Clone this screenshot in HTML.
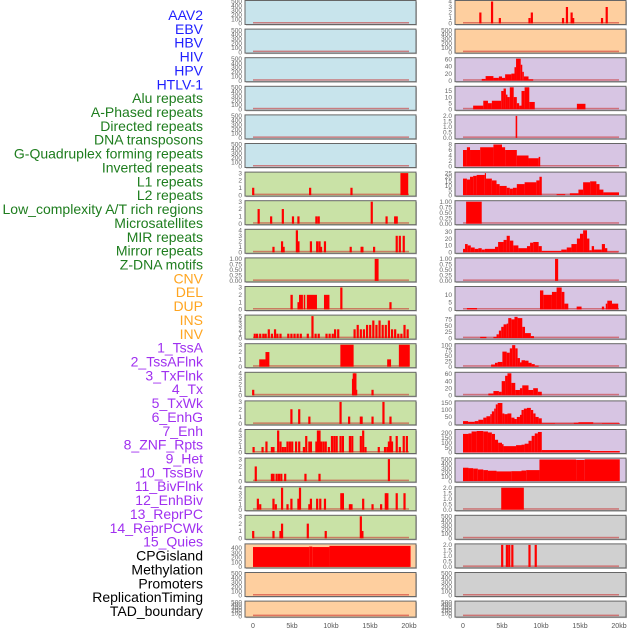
<!DOCTYPE html>
<html><head><meta charset="utf-8">
<style>
html,body{margin:0;padding:0;background:#fff;width:630px;height:630px;overflow:hidden}
svg{display:block}
.lbl{font-family:"Liberation Sans",sans-serif;font-size:14px}
.tk{font-family:"Liberation Sans",sans-serif;font-size:6.5px;fill:#666}
.xt{font-family:"Liberation Sans",sans-serif;font-size:7px;fill:#555}
</style></head>
<body>
<svg id="chart" width="630" height="630" viewBox="0 0 630 630" xmlns="http://www.w3.org/2000/svg"></svg>
<script>
const labelNames=["AAV2","EBV","HBV","HIV","HPV","HTLV-1","Alu repeats","A-Phased repeats","Directed repeats","DNA transposons","G-Quadruplex forming repeats","Inverted repeats","L1 repeats","L2 repeats","Low_complexity A/T rich regions","Microsatellites","MIR repeats","Mirror repeats","Z-DNA motifs","CNV","DEL","DUP","INS","INV","1_TssA","2_TssAFlnk","3_TxFlnk","4_Tx","5_TxWk","6_EnhG","7_Enh","8_ZNF_Rpts","9_Het","10_TssBiv","11_BivFlnk","12_EnhBiv","13_ReprPC","14_ReprPCWk","15_Quies","CPGisland","Methylation","Promoters","ReplicationTiming","TAD_boundary"];
const labelGroups=[0,0,0,0,0,0,1,1,1,1,1,1,1,1,1,1,1,1,1,2,2,2,2,2,3,3,3,3,3,3,3,3,3,3,3,3,3,3,3,4,4,4,4,4];
const groupColors=["#1f1fff","#1e7d1e","#ffa520","#a030f0","#000000"];
const bgColors=["#c8e4ec","#c9e2a6","#fecf9f","#d7c5e3","#d0d0d0"];
const xTickKb=[0,5,10,15,20];
const xTickLabels=["0","5kb","10kb","15kb","20kb"];
const T500=[0,100,200,300,400,500];
const tTicks=[T500,T500,T500,T500,T500,T500,[0,1,2,3],[0,1,2,3],[0,1,2,3,4],[0,0.25,0.5,0.75,1],[0,1,2,3],[0,1,2,3,4,5],[0,1,2,3],[0,1,2,3,4],[0,1,2,3],[0,1,2,3,4],[0,1,2,3],[0,1,2,3,4],[0,1,2,3],[0,100,200,300,400],T500,T500,
 [0,1,2,3,4],T500,[0,20,40,60],[0,5,10,15],[0,0.5,1,1.5,2],[0,2,4,6,8],[0,5,10,15,20,25],[0,0.25,0.5,0.75,1],[0,10,20,30],[0,0.25,0.5,0.75,1],[0,5,10],[0,25,50,75],[0,25,50,75,100],[0,20,40,60],[0,50,100,150],[0,50,100,150,200],T500,[0,0.5,1,1.5,2],T500,[0,0.5,1,1.5,2],T500,T500];
const tMax=[500,500,500,500,500,500,3,3,4,1,3,5,3,4,3,4,3,4,3,460,500,500,
 4,500,62,18,2,8,24,1,32,1,15,88,102,62,158,225,510,2,500,2,500,500];
const tSegs=[[],[],[],[],[],[],
 [[18.9,19.9,3]],
 [],[],[[15.6,16.1,1]],
 [[4.8,5.1,2],[5.7,5.9,1],[5.9,6.4,2],[6.5,6.7,2],[6.9,8.2,2],[9.1,9.8,2]],
 [],
 [[0.8,1.6,1],[1.6,2.1,2],[11.2,12.9,3],[17.2,17.7,1],[18.7,20.1,3]],
 [],[],[],[],[],[],
 [[0,7.2,415],[7.2,7.6,425],[7.6,9.8,415],[9.8,20.2,440]],
 [],[],
 [],[],
 [[2.4,2.9,5],[2.9,3.9,13],[3.9,4.6,8],[4.6,5.0,12],[5.0,5.4,8],[5.4,6.2,18],[6.2,6.6,20],[6.6,6.8,38],[6.8,7.4,62],[7.4,7.6,45],[7.6,7.8,25],[7.8,8.4,12],[8.4,9.0,4]],
 [[1.3,2.6,3],[2.6,3.2,7],[3.2,3.7,5],[3.7,4.9,7],[4.9,5.2,15],[5.2,5.5,17],[5.5,5.7,12],[5.7,6.0,10],[6.0,6.5,18],[6.5,6.9,10],[6.9,7.2,5],[7.2,7.5,3],[7.5,7.9,15],[7.9,8.5,19],[8.5,9.2,6],[14.6,15.7,4.5]],
 [[6.75,6.95,2]],
 [[0,0.5,6],[0.5,0.9,7],[0.9,2.2,6],[2.2,3.9,7],[3.9,5.0,8],[5.0,5.4,7],[5.4,6.9,6],[6.9,8.4,4],[8.4,9.7,3],[9.7,9.9,3.5]],
 [[0,0.5,18],[0.5,0.9,17],[0.9,1.3,20],[1.3,1.75,21],[1.75,2.8,22],[2.8,2.95,24],[2.95,3.7,18],[3.7,4.3,16],[4.3,4.7,12],[4.7,5.6,10],[5.6,6.0,8],[6.0,6.4,7],[6.4,6.9,8],[6.9,7.9,12],[7.9,9.4,14],[9.4,9.8,16],[9.8,10.1,20],[12.0,13.1,1],[13.7,14.8,2],[14.8,15.4,6],[15.4,16.3,14],[16.3,17.1,15],[17.1,17.5,12],[17.5,18.0,6],[18.0,20.0,3]],
 [[0.4,2.4,1]],
 [[0,0.26,5],[0.26,0.6,12],[0.6,1.0,10],[1.0,1.5,7],[1.5,1.97,5],[1.97,2.4,6],[2.4,2.8,4],[2.8,4.1,5],[4.1,4.5,8],[4.5,5.2,15],[5.2,5.6,18],[5.6,6.0,24],[6.0,6.45,17],[6.45,7.1,10],[7.1,8.2,6],[8.2,8.6,9],[8.6,9.0,14],[9.0,9.7,15],[9.7,10.1,9],[10.1,12.6,2],[12.6,13.3,4],[13.3,13.9,7],[13.9,14.6,12],[14.6,15.0,20],[15.0,15.4,27],[15.4,15.9,32],[15.9,16.2,20],[16.2,16.5,3],[16.5,16.8,9],[16.8,17.8,4],[17.8,18.2,12],[18.2,18.5,6],[18.5,19.9,1]],
 [[11.8,12.2,1]],
 [[0.5,1.8,1],[9.87,10.3,13],[10.3,11.4,10],[11.4,12.0,12],[12.0,12.65,16],[12.65,13.0,12],[13.0,13.5,4],[14.57,15.2,2],[17.8,18.1,2],[18.3,18.5,4],[18.5,19.1,6],[19.1,19.9,4]],
 [[2.2,3.0,5],[3.9,4.3,5],[4.3,4.6,15],[4.6,4.9,30],[4.9,5.2,45],[5.2,5.6,55],[5.6,5.8,58],[5.8,6.2,80],[6.2,6.6,75],[6.6,7.0,85],[7.0,7.6,80],[7.6,7.95,45],[7.95,8.7,20],[8.7,9.1,8]],
 [[3.6,4.1,10],[4.1,4.45,18],[4.45,5.05,22],[5.05,5.6,70],[5.6,6.0,65],[6.0,6.3,85],[6.3,6.7,100],[6.7,7.0,85],[7.0,7.3,40],[7.3,7.5,20],[7.5,7.95,30],[7.95,8.4,28],[8.4,8.8,18],[8.8,9.2,12],[9.2,9.7,5]],
 [[3.25,3.9,5],[3.9,4.6,12],[4.6,4.96,10],[4.96,5.4,40],[5.4,5.7,55],[5.7,6.2,62],[6.2,6.7,35],[6.7,7.3,15],[7.3,7.6,20],[7.6,8.4,28],[8.4,9.0,15],[9.0,9.6,20],[9.6,10.1,10]],
 [[0,0.65,20],[0.65,1.5,15],[1.5,1.97,20],[1.97,2.6,30],[2.6,3.0,45],[3.0,3.5,55],[3.5,3.7,70],[3.7,4.0,90],[4.0,4.2,110],[4.2,4.45,140],[4.45,5.05,150],[5.05,5.3,75],[5.3,5.7,70],[5.7,6.2,75],[6.2,6.6,45],[6.6,6.9,35],[6.9,7.3,50],[7.3,7.5,65],[7.5,7.8,100],[7.8,8.2,110],[8.2,8.7,115],[8.7,9.0,100],[9.0,9.3,75],[9.3,9.7,50],[9.7,10.1,40],[10.1,11.8,5],[11.8,14.2,3],[14.2,14.8,8],[14.8,16.7,12],[16.7,17.8,3],[17.8,20.1,5]],
 [[0,0.7,190],[0.7,1.1,195],[1.1,1.75,215],[1.75,2.6,220],[2.6,3.2,215],[3.2,3.7,205],[3.7,4.1,190],[4.1,4.5,130],[4.5,5.0,100],[5.0,5.2,85],[5.2,6.8,65],[6.8,7.5,75],[7.5,7.9,80],[7.9,8.4,90],[8.4,8.8,120],[8.8,9.2,170],[9.2,9.6,195],[9.6,10.1,210],[10.1,16.3,25],[16.3,20.1,15]],
 [[0,0.7,310],[0.7,1.3,300],[1.3,1.9,290],[1.9,2.6,270],[2.6,3.2,255],[3.2,4.3,240],[4.3,6.2,225],[6.2,7.5,230],[7.5,8.1,245],[8.1,9.8,255],[9.8,14.5,500],[14.5,15.6,490],[15.6,20.1,505]],
 [[4.9,7.8,2]],
 [],[],[],[]];
const tSpikes=[[],[],[],[],[],[],
 [[0,1],[7.3,1],[12.6,1]],
 [[0.7,2],[2.3,1],[3.8,2],[5.1,1],[5.8,1],[8.1,1],[8.4,1],[15.2,3],[17.1,1],[18.2,1],[18.4,1]],
 [[2.6,1],[3.7,2],[3.9,1],[5.6,4],[5.8,2],[7.4,2],[8.2,2],[8.5,2],[8.7,1],[9.2,2],[12.5,1],[13.9,1],[14.0,1],[15.5,1],[18.4,3],[18.8,3],[19.3,3]],
 [],[[11.3,3],[17.6,1]],
 [[0.2,1],[0.5,1],[0.9,1],[1.3,1],[1.6,1],[2.0,2],[2.4,1],[2.8,2],[3.1,1],[3.5,1],[4.5,1],[4.9,1],[5.3,1],[5.7,1],[6.1,1],[7.0,1],[7.6,5],[8.0,1],[8.4,1],[9.4,1],[9.8,1],[10.2,1],[10.5,2],[10.9,2],[13.0,2],[13.4,3],[13.8,2],[14.2,2],[14.6,3],[15.0,3],[15.4,4],[15.8,3],[16.2,4],[16.6,3],[17.0,3],[17.4,4],[17.8,2],[18.2,2],[18.6,1],[19.0,1],[19.4,3],[19.8,2]],
 [],
 [[0.0,1],[12.8,3],[12.9,4],[13.1,4],[13.2,1],[15.3,1]],
 [[4.9,2],[5.9,2],[7.2,1],[11.2,3],[12.3,1],[13.8,1],[13.9,1],[15.3,1],[16.7,3],[17.6,1]],
 [[0.05,1],[1.2,1],[1.7,2],[2.4,1],[2.6,1],[3.2,4],[3.5,2],[3.8,1],[4.1,1],[4.4,2],[4.7,2],[5.0,2],[5.5,2],[5.9,2],[6.5,1],[6.8,3],[7.2,2],[7.4,2],[8.1,2],[8.3,4],[8.5,4],[8.7,2],[9.0,2],[9.3,2],[9.7,1],[10.1,3],[10.4,3],[10.7,3],[11.2,3],[11.5,3],[12.4,3],[12.7,3],[13.8,3],[14.1,4],[14.4,1],[16.1,1],[16.9,1],[17.2,1],[17.4,2],[17.6,3],[17.8,2],[18.4,3],[18.8,1],[19.3,3],[19.7,3]],
 [[0.33,2],[2.4,1],[2.6,1],[3.0,1],[3.3,1],[3.6,1],[4.1,1],[6.7,1],[8.5,1],[17.4,3]],
 [[0.6,2],[0.9,1],[2.6,2],[2.9,1],[3.7,4],[4.4,1],[4.9,2],[5.8,2],[6.0,4],[7.2,1],[7.4,2],[8.2,2],[8.6,2],[9.2,2],[11.3,3],[11.5,3],[12.4,1],[12.6,1],[14.1,2],[15.3,1],[16.4,1],[17.0,3],[17.2,3],[18.4,3],[19.4,3]],
 [[0,1],[2.6,1],[3.5,1],[3.7,2],[7.0,2],[9.3,1],[13.8,3],[14.0,1]],
 [],[],[],
 [[2.2,2],[3.7,4],[4.7,1],[8.5,1],[8.8,2],[12.8,1],[13.3,3],[13.9,2],[14.1,1],[17.8,1],[18.4,3]],
 [],[],[],[],[],[],[],[],[],[],[],[],[],[],[],[],[],[],
 [[5.0,2],[5.6,2],[5.9,2],[6.3,2],[8.5,2],[9.3,2]],
 [],[]];

const svg=document.getElementById('chart');
const NS='http://www.w3.org/2000/svg';
function mk(tag,attrs,parent){const e=document.createElementNS(NS,tag);for(const k in attrs)e.setAttribute(k,attrs[k]);(parent||svg).appendChild(e);return e;}

labelNames.forEach((name,i)=>{
  const t=mk('text',{x:203,y:20+i*13.86,'text-anchor':'end',class:'lbl',fill:groupColors[labelGroups[i]]});
  t.textContent=name;
  
  
});

const colX=[245,455], PW=171, PITCH=28.6;
const KB=7.8, OFF=8;
function xScale(col,kb){return colX[col]+OFF+kb*KB;}
function decimals(v){const s=String(v);return s.includes('.')?s.split('.')[1].length:0;}

for(let i=0;i<44;i++){
  const col=i<22?0:1, row=i%22;
  const top=0.5+row*PITCH, h=row===21?16:24;
  const x0=colX[col];
  const g=mk('g',{});
  
  
  mk('rect',{x:x0+1,y:top+1,width:PW,height:h,fill:'#bbb'},g);
  mk('rect',{x:x0,y:top,width:PW,height:h,fill:bgColors[labelGroups[i]],stroke:'#666','stroke-width':1},g);
  const y0=top+h-1, yTop=top+1, ymax=tMax[i];
  const yScale=v=>y0-(v/ymax)*(y0-yTop);
  const bl=mk('rect',{x:xScale(col,0),y:y0-1.5,width:20*KB,height:1.5,fill:'rgba(200,40,40,0.55)'},g);
  
  
  const ticks=tTicks[i]||[];
  const dec=Math.max(0,...ticks.map(decimals));
  ticks.forEach(v=>{
    const t=mk('text',{x:x0-3,y:yScale(Math.min(v,ymax))+2.2,'text-anchor':'end',class:'tk'},g);
    t.textContent=v.toFixed(dec);
    
    
  });
  (tSegs[i]||[]).forEach(s=>{
    const v=Math.min(s[2],ymax);
    const r=mk('rect',{x:xScale(col,s[0]),y:yScale(v),width:Math.max(1,(s[1]-s[0])*KB),height:y0-yScale(v),fill:'#ff0000'},g);
    
    
  });
  (tSpikes[i]||[]).forEach(s=>{
    const v=Math.min(s[1],ymax);
    const r=mk('rect',{x:xScale(col,s[0])-0.9,y:yScale(v),width:2.2,height:y0-yScale(v),fill:'#ff0000'},g);
    
    
  });
}
[0,1].forEach(col=>{
  xTickKb.forEach((kb,j)=>{
    const t=mk('text',{x:xScale(col,kb),y:628,'text-anchor':'middle',class:'xt'});
    t.textContent=xTickLabels[j];
    
    
  });
});
</script>
</body></html>
